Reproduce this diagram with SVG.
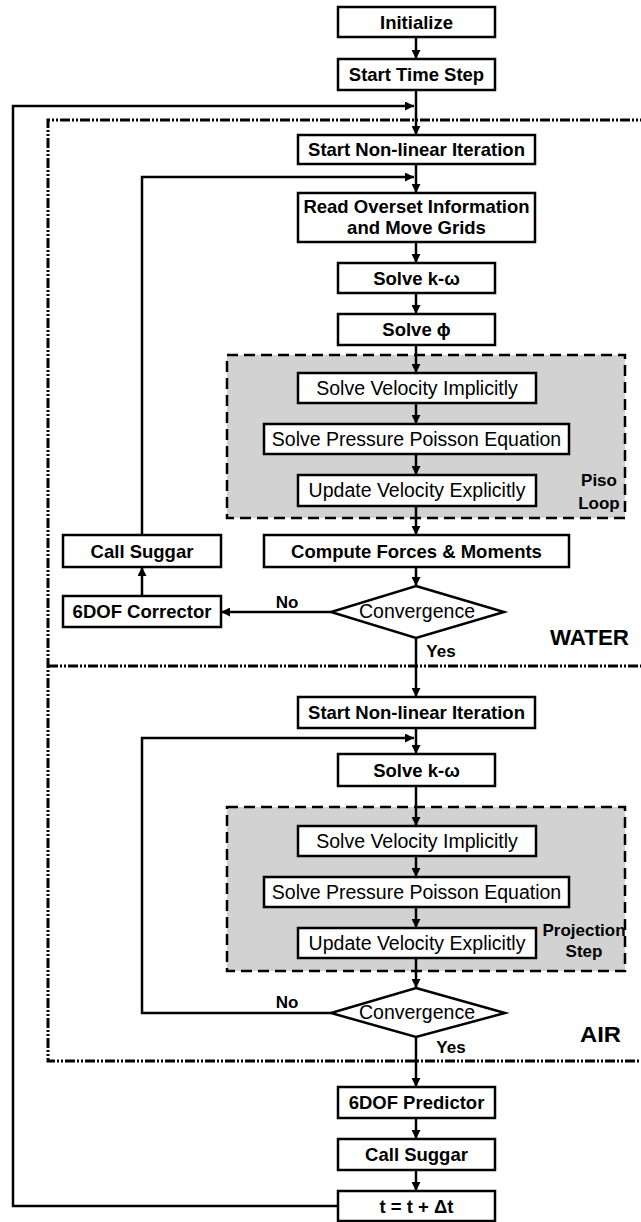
<svg xmlns="http://www.w3.org/2000/svg" width="641" height="1222" viewBox="0 0 641 1222">
<defs>
<marker id="arr" viewBox="0 0 10 10" refX="10" refY="5" markerWidth="9" markerHeight="9" markerUnits="userSpaceOnUse" orient="auto">
<path d="M0,0 L10,5 L0,10 z" fill="#000"/>
</marker>
<style>
.box{fill:#fff;stroke:#000;stroke-width:2.5}
.gray{fill:#d2d2d2;stroke:#000;stroke-width:2.5;stroke-dasharray:11 6}
.b{font-family:"Liberation Sans",Arial,sans-serif;font-weight:bold;font-size:18.5px;text-anchor:middle;fill:#000}
.r{font-family:"Liberation Sans",Arial,sans-serif;font-size:19.5px;text-anchor:middle;fill:#000}
.lbl{font-family:"Liberation Sans",Arial,sans-serif;font-weight:bold;font-size:17px;text-anchor:middle;fill:#000}
.big{font-family:"Liberation Sans",Arial,sans-serif;font-weight:bold;font-size:22px;text-anchor:middle;fill:#000}
.ln{fill:none;stroke:#000;stroke-width:2.5}
.ar{fill:none;stroke:#000;stroke-width:2.5;marker-end:url(#arr)}
.dd{fill:none;stroke:#000;stroke-width:3;stroke-dasharray:10 2 2 2 2 2}
</style>
</defs>
<rect width="641" height="1222" fill="#fff"/>

<g id="regions">
<path class="dd" d="M650,120 H48 V1061 H650"/>
<path class="dd" d="M48,666 H650"/>
<rect id="piso-loop" class="gray" x="227" y="355" width="398" height="163"/>
<rect id="projection-step" class="gray" x="227" y="807" width="398" height="164"/>
<text class="big" x="589.5" y="645" textLength="79" lengthAdjust="spacingAndGlyphs">WATER</text>
<text class="big" x="600.5" y="1042" textLength="41" lengthAdjust="spacingAndGlyphs">AIR</text>
<text class="lbl" x="599" y="486">Piso</text>
<text class="lbl" x="599" y="509">Loop</text>
<text class="lbl" x="584" y="936" font-size="15.5">Projection</text>
<text class="lbl" x="584" y="957" font-size="15.5">Step</text>
</g>

<g id="connectors">
<line class="ar" x1="416" y1="37" x2="416" y2="59"/>
<line class="ar" x1="416" y1="90" x2="416" y2="135"/>
<polyline class="ar" points="338,1206 13,1206 13,106 414,106"/>
<line class="ar" x1="416" y1="164" x2="416" y2="193"/>
<polyline class="ar" points="142,535 142,177 414,177"/>
<line class="ar" x1="416" y1="242" x2="416" y2="263"/>
<line class="ar" x1="416" y1="293" x2="416" y2="314"/>
<line class="ar" x1="416" y1="345" x2="416" y2="373"/>
<line class="ar" x1="416" y1="403" x2="416" y2="424"/>
<line class="ar" x1="416" y1="454" x2="416" y2="475"/>
<line class="ar" x1="416" y1="506" x2="416" y2="535"/>
<line class="ar" x1="416" y1="567" x2="416" y2="586"/>
<line class="ar" x1="331" y1="612" x2="221" y2="612"/>
<line class="ar" x1="142" y1="596" x2="142" y2="567"/>
<line class="ar" x1="416" y1="638" x2="416" y2="697"/>
<line class="ar" x1="416" y1="728" x2="416" y2="754"/>
<polyline class="ar" points="331,1013 142,1013 142,738 414,738"/>
<line class="ar" x1="416" y1="786" x2="416" y2="826"/>
<line class="ar" x1="416" y1="856" x2="416" y2="877"/>
<line class="ar" x1="416" y1="907" x2="416" y2="928"/>
<line class="ar" x1="416" y1="958" x2="416" y2="988"/>
<line class="ar" x1="416" y1="1037" x2="416" y2="1087"/>
<line class="ar" x1="416" y1="1118" x2="416" y2="1139"/>
<line class="ar" x1="416" y1="1170" x2="416" y2="1191"/>
<text class="lbl" x="287" y="608">No</text>
<text class="lbl" x="441" y="657">Yes</text>
<text class="lbl" x="287" y="1008">No</text>
<text class="lbl" x="451" y="1053">Yes</text>
</g>

<g id="initialize"><rect class="box" x="338" y="7" width="157" height="30"/><text class="b" x="416.5" y="28.5">Initialize</text></g>
<g id="start-time-step"><rect class="box" x="338" y="59" width="157" height="31"/><text class="b" x="416.5" y="81">Start Time Step</text></g>

<g id="w-start-iter"><rect class="box" x="298" y="135" width="237" height="29"/><text class="b" x="416.5" y="156">Start Non-linear Iteration</text></g>
<g id="w-read-overset"><rect class="box" x="298" y="193" width="237" height="49"/><text class="b" x="416.5" y="213">Read Overset Information</text><text class="b" x="416.5" y="234">and Move Grids</text></g>
<g id="w-solve-kw"><rect class="box" x="338" y="263" width="157" height="30"/><text class="b" x="416.5" y="284.5">Solve k-ω</text></g>
<g id="w-solve-phi"><rect class="box" x="338" y="314" width="157" height="31"/><text class="b" x="416.5" y="336">Solve ϕ</text></g>
<g id="w-vel-imp"><rect class="box" x="298" y="373" width="238" height="30"/><text class="r" x="417" y="395">Solve Velocity Implicitly</text></g>
<g id="w-pressure"><rect class="box" x="264" y="424" width="305" height="30"/><text class="r" x="416.5" y="446">Solve Pressure Poisson Equation</text></g>
<g id="w-vel-exp"><rect class="box" x="298" y="475" width="238" height="31"/><text class="r" x="417" y="497">Update Velocity Explicitly</text></g>
<g id="w-forces"><rect class="box" x="264" y="535" width="305" height="32"/><text class="b" x="416.5" y="557.5">Compute Forces &amp; Moments</text></g>
<g id="w-convergence"><polygon class="box" points="416,586 504,612 416,638 331,612"/><text class="r" x="417" y="618">Convergence</text></g>
<g id="w-call-suggar"><rect class="box" x="63" y="535" width="158" height="32"/><text class="b" x="142" y="557.5">Call Suggar</text></g>
<g id="w-6dof-corrector"><rect class="box" x="63" y="596" width="158" height="31"/><text class="b" x="142" y="618">6DOF Corrector</text></g>

<g id="a-start-iter"><rect class="box" x="298" y="697" width="237" height="31"/><text class="b" x="416.5" y="719">Start Non-linear Iteration</text></g>
<g id="a-solve-kw"><rect class="box" x="338" y="754" width="157" height="32"/><text class="b" x="416.5" y="776.5">Solve k-ω</text></g>
<g id="a-vel-imp"><rect class="box" x="298" y="826" width="238" height="30"/><text class="r" x="417" y="848">Solve Velocity Implicitly</text></g>
<g id="a-pressure"><rect class="box" x="264" y="877" width="305" height="30"/><text class="r" x="416.5" y="899">Solve Pressure Poisson Equation</text></g>
<g id="a-vel-exp"><rect class="box" x="298" y="928" width="238" height="30"/><text class="r" x="417" y="950">Update Velocity Explicitly</text></g>
<g id="a-convergence"><polygon class="box" points="416,988 505,1013 416,1037 331,1013"/><text class="r" x="417" y="1019">Convergence</text></g>

<g id="predictor"><rect class="box" x="338" y="1087" width="157" height="31"/><text class="b" x="416.5" y="1109">6DOF Predictor</text></g>
<g id="call-suggar"><rect class="box" x="338" y="1139" width="157" height="31"/><text class="b" x="416.5" y="1161">Call Suggar</text></g>
<g id="time-advance"><rect class="box" x="338" y="1191" width="157" height="30"/><text class="b" x="416.5" y="1212.5">t = t + Δt</text></g>
</svg>
